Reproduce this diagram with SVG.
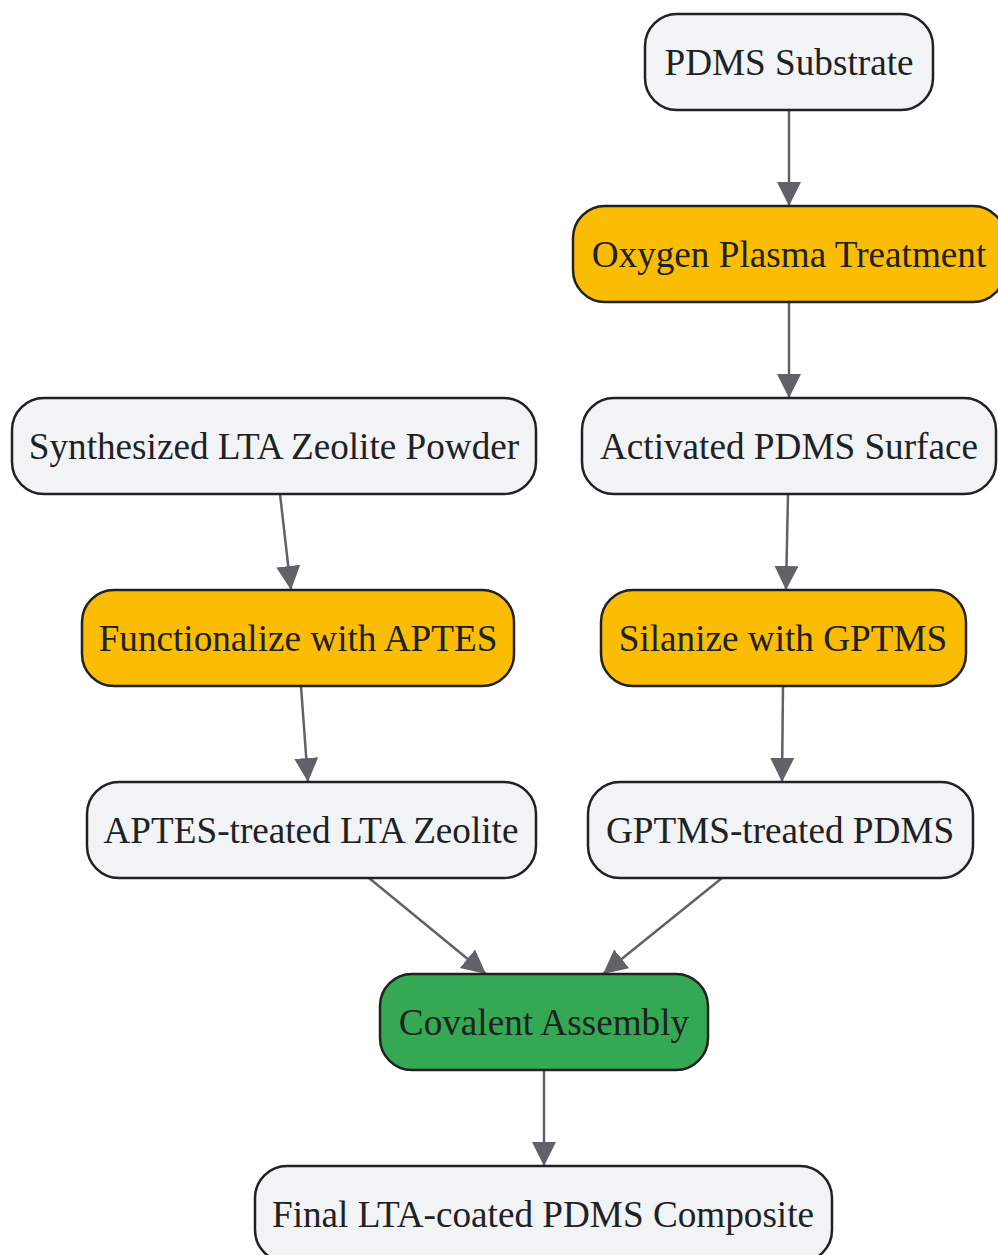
<svg xmlns="http://www.w3.org/2000/svg" width="998" height="1255" viewBox="0 0 998 1255">
<style>
.n rect{stroke:#202124;stroke-width:2.5}
.g rect{fill:#f1f3f4}
.o rect{fill:#fbbc04}
.v rect{fill:#34a853}
.n text{font-family:"Liberation Serif","Times New Roman",serif;font-size:37.2px;fill:#202124;text-anchor:middle}
.e path{fill:none;stroke:#5f6368;stroke-width:2.5;marker-end:url(#ah)}
</style>
<defs>
<marker id="ah" markerUnits="userSpaceOnUse" markerWidth="26" markerHeight="26" viewBox="0 0 26 26" refX="24" refY="12" orient="auto">
<path d="M0,0 L24,12 L0,24 z" fill="#5f6368"/>
</marker>
</defs>
<rect width="998" height="1255" fill="#ffffff"/>
<g id="connectors" class="e">
<path d="M789,110 L789,206"/>
<path d="M789,302 L789,398"/>
<path d="M280,494 L291,590"/>
<path d="M788,494 L786,590"/>
<path d="M301,686 L308,782"/>
<path d="M783,686 L782,782"/>
<path d="M369,878 L486,974"/>
<path d="M722,878 L603,974"/>
<path d="M544,1070 L544,1166"/>
</g>
<g id="n1" class="n g"><rect x="645" y="14" width="288" height="96" rx="32"/><text x="789" y="75">PDMS Substrate</text></g>
<g id="n2" class="n o"><rect x="573" y="206" width="432" height="96" rx="32"/><text x="789" y="267">Oxygen Plasma Treatment</text></g>
<g id="n3" class="n g"><rect x="12" y="398" width="524" height="96" rx="32"/><text x="274" y="459">Synthesized LTA Zeolite Powder</text></g>
<g id="n4" class="n g"><rect x="582" y="398" width="414" height="96" rx="32"/><text x="789" y="459">Activated PDMS Surface</text></g>
<g id="n5" class="n o"><rect x="82" y="590" width="432" height="96" rx="32"/><text x="298" y="651">Functionalize with APTES</text></g>
<g id="n6" class="n o"><rect x="601" y="590" width="365" height="96" rx="32"/><text x="783" y="651">Silanize with GPTMS</text></g>
<g id="n7" class="n g"><rect x="87" y="782" width="449" height="96" rx="32"/><text x="311" y="843">APTES-treated LTA Zeolite</text></g>
<g id="n8" class="n g"><rect x="588" y="782" width="385" height="96" rx="32"/><text x="780" y="843">GPTMS-treated PDMS</text></g>
<g id="n9" class="n v"><rect x="380" y="974" width="328" height="96" rx="32"/><text x="544" y="1035">Covalent Assembly</text></g>
<g id="n10" class="n g"><rect x="255" y="1166" width="577" height="96" rx="32"/><text x="543" y="1227">Final LTA-coated PDMS Composite</text></g>
</svg>
